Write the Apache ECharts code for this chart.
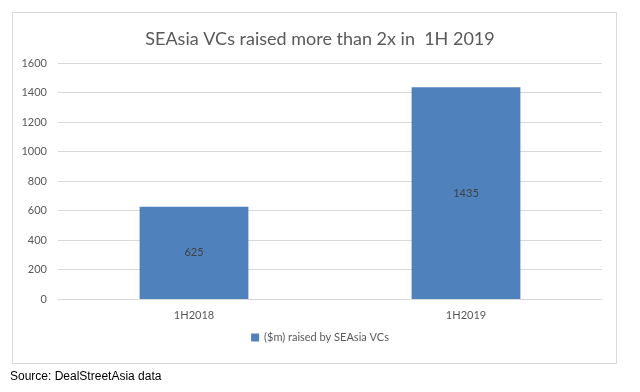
<!DOCTYPE html>
<html><head><meta charset="utf-8">
<script src="https://cdn.jsdelivr.net/npm/echarts@6/dist/echarts.min.js"></script>
<style>html,body{margin:0;padding:0;background:#fff}#c{width:640px;height:392px}</style>
</head><body><div id="c"></div>
<script>
var categories = ['1H2018', '1H2019'];
var values = [625, 1435];
var seriesName = '($m) raised by SEAsia VCs';
var titleText = 'SEAsia VCs raised more than 2x in  1H 2019';
var sourceText = 'Source: DealStreetAsia data';

var chart = echarts.init(document.getElementById('c'));
var font = 'Lato, "Open Sans", sans-serif';
chart.setOption({
  animation: false,
  backgroundColor: '#fff',
  title: { text: titleText, left: 'center', top: 25, textStyle: { fontFamily: font, fontSize: 18, fontWeight: 'normal', color: '#595959' } },
  graphic: [
    { type: 'rect', shape: { x: 12.5, y: 12.5, width: 604, height: 351 }, style: { fill: 'none', stroke: '#d9d9d9', lineWidth: 1 }, z: -1 },
    { type: 'text', left: 10, top: 371, style: { text: sourceText, font: '12px "Liberation Sans", Arial, sans-serif', fill: '#000' } }
  ],
  legend: { bottom: 44, left: 'center', itemWidth: 8, itemHeight: 8, icon: 'rect', data: [seriesName], textStyle: { fontFamily: font, fontSize: 11, color: '#595959' } },
  grid: { left: 58, right: 38, top: 63, bottom: 93 },
  xAxis: { type: 'category', data: categories, axisTick: { show: false }, axisLine: { lineStyle: { color: '#d9d9d9' } }, axisLabel: { fontFamily: font, fontSize: 11, color: '#595959', margin: 11 } },
  yAxis: { type: 'value', min: 0, max: 1600, interval: 200, axisLine: { show: false }, axisTick: { show: false }, splitLine: { lineStyle: { color: '#d9d9d9' } },
    axisLabel: { fontFamily: font, fontSize: 11, color: '#595959', margin: 11, formatter: function (v) { return String(v); } } },
  series: [{ name: seriesName, type: 'bar', data: values, barWidth: '40%', itemStyle: { color: '#4f81bd' },
    label: { show: true, position: 'inside', fontFamily: font, fontSize: 11, color: '#404040' } }]
});
</script></body></html>
